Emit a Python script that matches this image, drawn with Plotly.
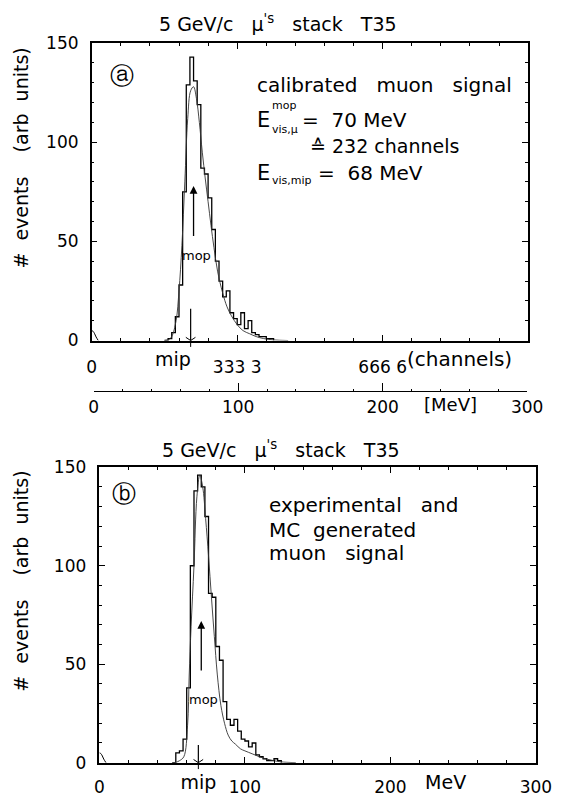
import plotly.graph_objects as go

# ---------------- data ----------------
# histogram bin edges (MeV) and counts, panel (a)
edges_a = [50, 52.5, 55, 57.5, 60, 62.5, 65, 67.5, 70, 72.5, 75, 77.5, 80, 82.5, 85,
           87.5, 90, 92.5, 95, 97.5, 100, 102.5, 105, 107.5, 110, 112.5, 115, 117.5,
           120, 122.5, 125]
counts_a = [0, 1, 4, 12, 28, 75, 129, 143, 131, 119, 87, 84, 72, 56, 40, 30, 22, 25,
            14, 11, 8, 14, 6, 10, 4, 3, 2, 2, 1, 1, 0]
# smooth (fit) curve, panel (a)
curve_a_x = [50, 53, 55, 58, 60, 62, 64, 66, 68, 70, 72, 74, 76, 78, 80, 82, 84, 86.5,
             90, 93, 96, 100, 104, 108.6, 113, 118, 125, 135]
curve_a_y = [0, 0.5, 2, 10, 25, 48, 80, 112, 126, 128, 122, 110, 95, 82, 70, 58, 47, 35,
             24, 17, 12.5, 8, 5, 3.4, 2, 1, 0.3, 0]

# panel (b): experimental histogram and MC curve
edges_b = [50, 52.5, 55, 57.5, 60, 62.5, 65, 67.5, 70, 72.5, 75, 77.5, 80, 82.5, 85,
           87.5, 90, 92.5, 95, 97.5, 100, 102.5, 105, 107.5, 110, 112.5, 115, 117.5,
           120, 122.5, 125]
counts_b = [0, 5, 6, 12, 38, 100, 138, 146, 140, 125, 86, 84, 59, 52, 31, 22, 19, 22,
            16, 12, 11, 8, 10, 4, 3, 2, 1, 1, 2, 1, 0]
curve_b_x = [52, 55, 58, 60.6, 61.7, 63, 65, 67, 69, 71, 73, 75, 77, 79, 81, 83.5, 86,
             88.5, 91, 93.5, 97, 100, 105, 110, 115, 120, 125, 135]
curve_b_y = [0, 1, 3, 19, 44, 69, 100, 135, 146, 140, 124, 105, 84, 64, 45, 29, 20, 14,
             11, 9.4, 7, 6, 4.5, 3, 1.8, 1, 0.4, 0]

# pedestal near zero
ped_x = [0, 1, 2, 3, 4.5]
ped_y = [5, 4.6, 3.4, 1.8, 0]

# markers
mip_mev = 68
mop_mev = 70
mip_mark_a = [0, 16]
mip_mark_b = [0, 9]
mop_arrow_a = [78, 52]   # head, tail (counts)
mop_arrow_b = [72, 46]

# tick labels
chan_tickvals = [0, 100, 200]
chan_ticktext = ['0', '333 3', '666 6']
mev_tickvals = [0, 100, 200, 300]
mev_ticktext = ['0', '100', '200', '300']
extra_b_tickvals = [mip_mev, 238]
extra_b_ticktext = ['mip', 'MeV']
y_tickvals = [0, 50, 100, 150]

# ---------------- figure ----------------
W, H = 575, 799
FONT = 'DejaVu Sans'


def px(x):
    return x / W


def py(y):
    return 1 - y / H


fig = go.Figure()

black = 'black'
for xa, ya, ex, cnt, cx, cy, mk in (
        ('x', 'y', edges_a, counts_a, curve_a_x, curve_a_y, mip_mark_a),
        ('x2', 'y2', edges_b, counts_b, curve_b_x, curve_b_y, mip_mark_b)):
    fig.add_trace(go.Scatter(x=ex, y=cnt, mode='lines', line_shape='hv',
                             line=dict(color=black, width=1.3), xaxis=xa, yaxis=ya))
    fig.add_trace(go.Scatter(x=cx, y=cy, mode='lines', line_shape='spline',
                             line=dict(color='#333', width=0.9), xaxis=xa, yaxis=ya))
    fig.add_trace(go.Scatter(x=ped_x, y=ped_y, mode='lines', line_shape='spline',
                             line=dict(color=black, width=1), xaxis=xa, yaxis=ya))
    fig.add_trace(go.Scatter(x=[mip_mev, mip_mev], y=mk, mode='lines',
                             line=dict(color=black, width=1.2), xaxis=xa, yaxis=ya))
    # mip caret at the axis
    fig.add_trace(go.Scatter(x=[mip_mev], y=[0], mode='markers', cliponaxis=False,
                             marker=dict(symbol='y-down-open', size=8, color=black,
                                         line=dict(color=black, width=1)),
                             xaxis=xa, yaxis=ya))

# secondary MeV axis carrier and extra label axis carrier
fig.add_trace(go.Scatter(x=[None], y=[None], mode='lines', xaxis='x3', yaxis='y3'))
fig.add_trace(go.Scatter(x=[None], y=[None], mode='lines', xaxis='x4', yaxis='y2'))

tickfont = dict(family=FONT, size=17, color=black)
common = dict(showline=True, linecolor=black, linewidth=1.5, mirror='ticks',
              ticks='inside', ticklen=6, tickwidth=1, tickcolor=black,
              showgrid=False, zeroline=False, tickfont=tickfont, fixedrange=True)

fig.update_layout(
    width=W, height=H, margin=dict(l=0, r=0, t=0, b=0),
    paper_bgcolor='white', plot_bgcolor='white', showlegend=False,
    xaxis=dict(common, domain=[px(90), px(543)], anchor='y', range=[0, 300],
               tickvals=chan_tickvals, ticktext=chan_ticktext, ticklabelstandoff=10,
               minor=dict(ticks='inside', ticklen=3, dtick=20, tickcolor=black)),
    yaxis=dict(common, domain=[py(339), py(34)], anchor='x', range=[0, 150],
               tickvals=y_tickvals, ticklabelstandoff=8,
               minor=dict(ticks='inside', ticklen=3, dtick=10, tickcolor=black)),
    xaxis2=dict(common, domain=[px(98), px(551)], anchor='y2', range=[0, 300],
                tickvals=mev_tickvals, ticktext=mev_ticktext, ticklabelstandoff=8,
                minor=dict(ticks='inside', ticklen=3, dtick=20, tickcolor=black)),
    yaxis2=dict(common, domain=[py(772), py(469)], anchor='x2', range=[0, 150],
                tickvals=y_tickvals, ticklabelstandoff=8,
                minor=dict(ticks='inside', ticklen=3, dtick=10, tickcolor=black)),
    xaxis3=dict(showline=True, linecolor=black, linewidth=1.2, ticks='inside',
                ticklen=8, tickwidth=1, tickcolor=black, showgrid=False, zeroline=False,
                domain=[px(92), px(542)], anchor='y3', range=[0, 300],
                tickvals=mev_tickvals, ticktext=mev_ticktext, tickfont=tickfont,
                ticklabelstandoff=0,
                minor=dict(ticks='inside', ticklen=2, dtick=20, tickcolor=black)),
    yaxis3=dict(domain=[py(391), py(391) + 0.01], anchor='x3', visible=False,
                range=[0, 1]),
    xaxis4=dict(overlaying='x2', anchor='y2', side='bottom', range=[0, 300],
                showline=False, ticks='', showgrid=False, zeroline=False,
                tickvals=extra_b_tickvals, ticktext=extra_b_ticktext,
                tickfont=dict(family=FONT, size=19, color=black), ticklabelstandoff=6),
)

ann = []


def text(x, y, s, size=18, xanchor='left', yanchor='middle', **kw):
    ann.append(dict(x=px(x), y=py(y), xref='paper', yref='paper', text=s,
                    showarrow=False, xanchor=xanchor, yanchor=yanchor,
                    font=dict(family=FONT, size=size, color=black), **kw))


# titles
text(283, 13, "5 GeV/c   μ<sup>'s</sup>   stack   T35", size=19, xanchor='center')
text(286, 450, "5 GeV/c   μ<sup>'s</sup>   stack   T35", size=19, xanchor='center')

# y-axis titles
for yc in (152, 586):
    ann.append(dict(x=px(17), y=py(yc), xref='paper', yref='paper',
                    text='#  events    (arb  units)', textangle=-90, showarrow=False,
                    xanchor='center', yanchor='middle',
                    font=dict(family=FONT, size=19, color=black)))

# panel labels
text(121, 68, 'ⓐ', size=24, xanchor='center')
text(123, 496, 'ⓑ', size=24, xanchor='center')

# panel (a) text block
text(259, 77, 'calibrated   muon   signal', size=20)
text(259, 113, 'E', size=21)
text(275, 98, 'mop', size=11)
text(275, 123, 'vis,μ', size=11)
text(306, 113, '=  70 MeV', size=20)
text(315, 140, '≙ 232 channels', size=19)
text(259, 167, 'E', size=21)
text(275, 175, 'vis,mip', size=11)
text(323, 167, '=  68 MeV', size=20)

# panel (b) text block
text(272, 508, 'experimental   and', size=20)
text(272, 533, 'MC  generated', size=20)
text(272, 557, 'muon   signal', size=20)

# axis extra labels (top panel)
text(174, 358, 'mip', size=19, xanchor='center')
text(415, 358, '(channels)', size=20)
text(462, 405, '[MeV]', size=18, xanchor='center')

# mop labels
text(199, 252, 'mop', size=13, xanchor='center')
text(206, 707, 'mop', size=13, xanchor='center')

# mop arrows
ann.append(dict(x=mop_mev, y=mop_arrow_a[0], ax=mop_mev, ay=mop_arrow_a[1],
                xref='x', yref='y', axref='x', ayref='y', text='', showarrow=True,
                arrowhead=2, arrowsize=1.2, arrowwidth=1.3, arrowcolor=black))
ann.append(dict(x=mop_mev, y=mop_arrow_b[0], ax=mop_mev, ay=mop_arrow_b[1],
                xref='x2', yref='y2', axref='x2', ayref='y2', text='', showarrow=True,
                arrowhead=2, arrowsize=1.2, arrowwidth=1.3, arrowcolor=black))

fig.update_layout(annotations=ann)
fig.write_html('out.html')
